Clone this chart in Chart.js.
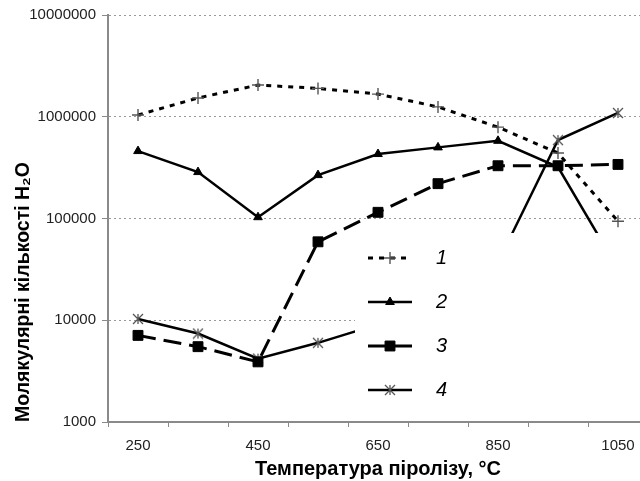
<!DOCTYPE html>
<html lang="uk">
<head>
<meta charset="UTF-8">
<title>Молякулярні кількості H2O</title>
<script src="https://cdn.jsdelivr.net/npm/chart.js"></script>
<style>
  body { margin: 0; background: #fff; overflow: hidden; }
  .wrap { width: 660px; height: 481px; }
</style>
</head>
<body>
<div class="wrap"><canvas id="pyro" width="660" height="481"></canvas></div>
<script>
// temperatures of pyrolysis, degC
const temps = ['250', '350', '450', '550', '650', '750', '850', '950', '1050'];
// molar amounts of H2O (log scale)
const series1 = [1040000, 1530000, 2050000, 1900000, 1670000, 1250000, 790000, 440000, 94000];
const series2 = [460000, 286000, 103000, 267000, 430000, 500000, 580000, 320000, 32000];
const series3 = [7100, 5500, 3900, 59000, 115000, 220000, 330000, 330000, 340000];
const series4 = [10300, 7400, 4200, 6000, 9100, 18000, 37000, 590000, 1090000];
const seriesNames = ['1', '2', '3', '4'];
const yTicks = [1000, 10000, 100000, 1000000, 10000000];

const FONT = "'Liberation Sans', Arial, sans-serif";
const AXIS = '#8a8a8a';

// excel-like asterisk: X with a vertical bar
function asterisk(size, color) {
    const c = document.createElement('canvas');
    c.width = c.height = size;
    const g = c.getContext('2d');
    g.strokeStyle = color;
    g.lineWidth = 1.3;
    const m = size / 2, r = size / 2 - 1;
    g.beginPath();
    g.moveTo(m - r, m - r); g.lineTo(m + r, m + r);
    g.moveTo(m + r, m - r); g.lineTo(m - r, m + r);
    g.moveTo(m, m - r); g.lineTo(m, m + r);
    g.stroke();
    return c;
}
const starImg = asterisk(12, '#555');

// white legend box sitting on top of the plot, like in the original
const legendBox = {
    id: 'legendBox',
    afterDatasetsDraw(chart) {
        const { ctx, chartArea } = chart;
        const x0 = 355, y0 = 233;
        ctx.save();
        ctx.fillStyle = '#fff';
        ctx.fillRect(x0, y0, chartArea.right - x0 + 2, 181);
        chart.data.datasets.forEach((ds, i) => {
            const y = 258 + i * 44;
            ctx.strokeStyle = '#000';
            ctx.lineWidth = ds.borderWidth;
            ctx.setLineDash(ds.borderDash || []);
            ctx.beginPath();
            ctx.moveTo(368, y);
            ctx.lineTo(412, y);
            ctx.stroke();
            ctx.setLineDash([]);
            ctx.fillStyle = ds.pointBackgroundColor;
            ctx.strokeStyle = ds.pointBorderColor;
            ctx.lineWidth = ds.pointBorderWidth;
            Chart.helpers.drawPoint(ctx, {
                pointStyle: ds.pointStyle, radius: ds.pointRadius,
                borderWidth: ds.pointBorderWidth, rotation: 0
            }, 390, y);
            ctx.fillStyle = '#000';
            ctx.font = 'italic 20px ' + FONT;
            ctx.textBaseline = 'middle';
            ctx.textAlign = 'left';
            ctx.fillText(ds.label, 436, y);
        });
        ctx.restore();
    }
};

new Chart(document.getElementById('pyro'), {
    type: 'line',
    data: {
        labels: temps,
        datasets: [
            {
                label: seriesNames[0], data: series1,
                borderColor: '#000', borderWidth: 3, borderDash: [5, 6],
                pointStyle: 'cross', pointRadius: 6, pointBorderWidth: 1.4,
                pointBorderColor: '#555', pointBackgroundColor: '#555'
            },
            {
                label: seriesNames[1], data: series2,
                borderColor: '#000', borderWidth: 2.5,
                pointStyle: 'triangle', pointRadius: 5, pointBorderWidth: 1,
                pointBorderColor: '#000', pointBackgroundColor: '#000'
            },
            {
                label: seriesNames[2], data: series3,
                borderColor: '#000', borderWidth: 3, borderDash: [18, 8],
                pointStyle: 'rect', pointRadius: 7, pointBorderWidth: 1,
                pointBorderColor: '#000', pointBackgroundColor: '#000'
            },
            {
                label: seriesNames[3], data: series4,
                borderColor: '#000', borderWidth: 2.5,
                pointStyle: starImg, pointRadius: 6, pointBorderWidth: 1,
                pointBorderColor: '#555', pointBackgroundColor: '#555'
            }
        ]
    },
    options: {
        responsive: false,
        animation: false,
        events: [],
        layout: { padding: { top: 15, right: 12, left: 0, bottom: 0 } },
        plugins: {
            legend: { display: false },
            tooltip: { enabled: false }
        },
        scales: {
            x: {
                offset: true,
                grid: { offset: true, drawOnChartArea: false, color: AXIS, tickLength: 5 },
                border: { color: AXIS, width: 2 },
                ticks: {
                    autoSkip: false, maxRotation: 0, padding: 10,
                    color: '#222', font: { family: FONT, size: 15 },
                    callback: function (v, i) { return i % 2 === 0 ? this.getLabelForValue(v) : ''; }
                },
                title: {
                    display: true, text: 'Температура піролізу, °C', color: '#000',
                    font: { family: FONT, size: 20, weight: 'bold' },
                    padding: { top: 0, bottom: 0 }
                },
                afterFit: s => { s.height = 59; }
            },
            y: {
                type: 'logarithmic',
                min: 1000, max: 10000000,
                afterBuildTicks: s => { s.ticks = yTicks.map(v => ({ value: v })); },
                grid: { color: '#999', lineWidth: 1, tickColor: AXIS, tickLength: 6 },
                border: { color: AXIS, width: 2, dash: [2, 3] },
                ticks: {
                    padding: 6, color: '#222', font: { family: FONT, size: 15 },
                    callback: v => String(v)
                },
                title: {
                    display: true, text: 'Молякулярні кількості H₂O', color: '#000',
                    align: 'start',
                    font: { family: FONT, size: 19.5, weight: 'bold' },
                    padding: { top: 12, bottom: 0 }
                },
                afterFit: s => { s.width = 108; }
            }
        }
    },
    plugins: [legendBox]
});
</script>
</body>
</html>
